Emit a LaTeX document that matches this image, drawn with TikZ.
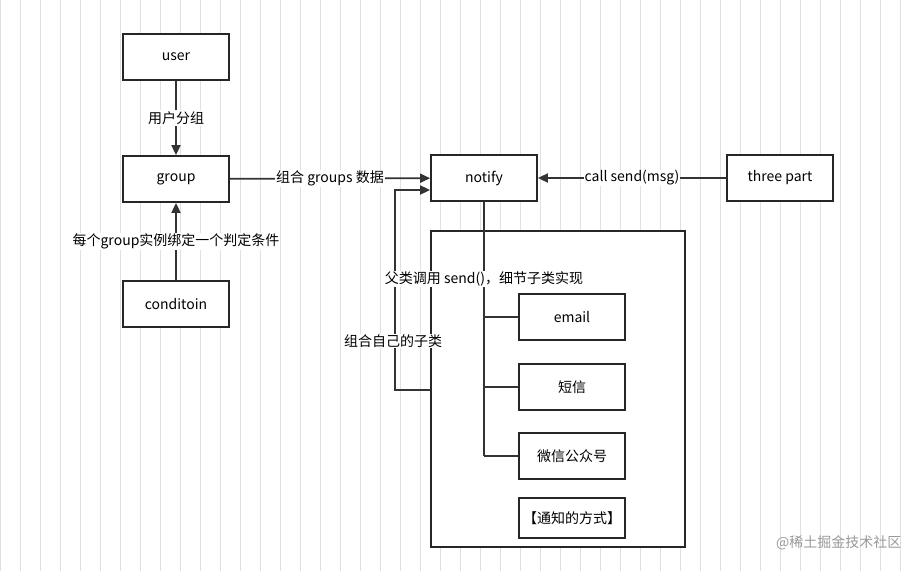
\documentclass[tikz,border=0pt]{standalone}
\usepackage{fontspec}
\setmainfont{Noto Sans CJK SC}
\usetikzlibrary{arrows.meta}
\begin{document}
\begin{tikzpicture}[x=1pt,y=-1pt,
 box/.style={draw=black!85,line width=1.8pt,fill=white,minimum width=106pt,minimum height=46pt,font=\fontsize{14}{16}\selectfont},
 lbl/.style={fill=white,inner sep=1pt,font=\fontsize{14}{16}\selectfont},
 ln/.style={draw=black!80,line width=1.8pt},
 arr/.style={ln,-{Triangle[length=10pt,width=9pt]}}]
\fill[white] (0,0) rectangle (919,571);
\useasboundingbox (0,0) rectangle (919,571);
\draw[black!12,line width=0.5pt,step=20] (0,0) grid (919,571);
\node[box] (user) at (176,57) {user};
\node[box] (group) at (176,179) {group};
\node[box] (cond) at (176,304) {conditoin};
\node[box] (notify) at (484,178) {notify};
\node[box] (three) at (780,178) {three part};
\node[draw=black!85,line width=1.8pt,fill=white,minimum width=254pt,minimum height=316pt] (big) at (558,389) {};
\node[box] (email) at (572,317) {email};
\node[box] (sms) at (572,387) {短信};
\node[box] (wx) at (572,456) {微信公众号};
\node[box,minimum height=40pt] (way) at (572,518) {【通知的方式】};
\draw[arr] (user) -- node[lbl]{用户分组} (group);
\draw[arr] (cond) -- node[lbl]{每个group实例绑定一个判定条件} (group);
\draw[arr] (group) -- node[lbl]{组合 groups 数据} (notify);
\draw[arr] (three) -- node[lbl]{call send(msg)} (notify);
\coordinate (fb) at (431,390);
\draw[arr] (fb) -| (395,190) -- (notify.west |- 0,190);
\node[lbl] at (393,341) {组合自己的子类};
\coordinate (tb) at (484,456);
\draw[ln] (notify.south) -- (tb);
\node[lbl] at (484,279) {父类调用 send()，细节子类实现};
\draw[ln] (484,317) -- (email.west);
\draw[ln] (484,387) -- (sms.west);
\draw[ln] (tb) -- (wx.west);
\node[text=black!40,font=\fontsize{14}{16}\selectfont,anchor=east] (wm) at (905,543) {@稀土掘金技术社区};
\end{tikzpicture}
\end{document}
